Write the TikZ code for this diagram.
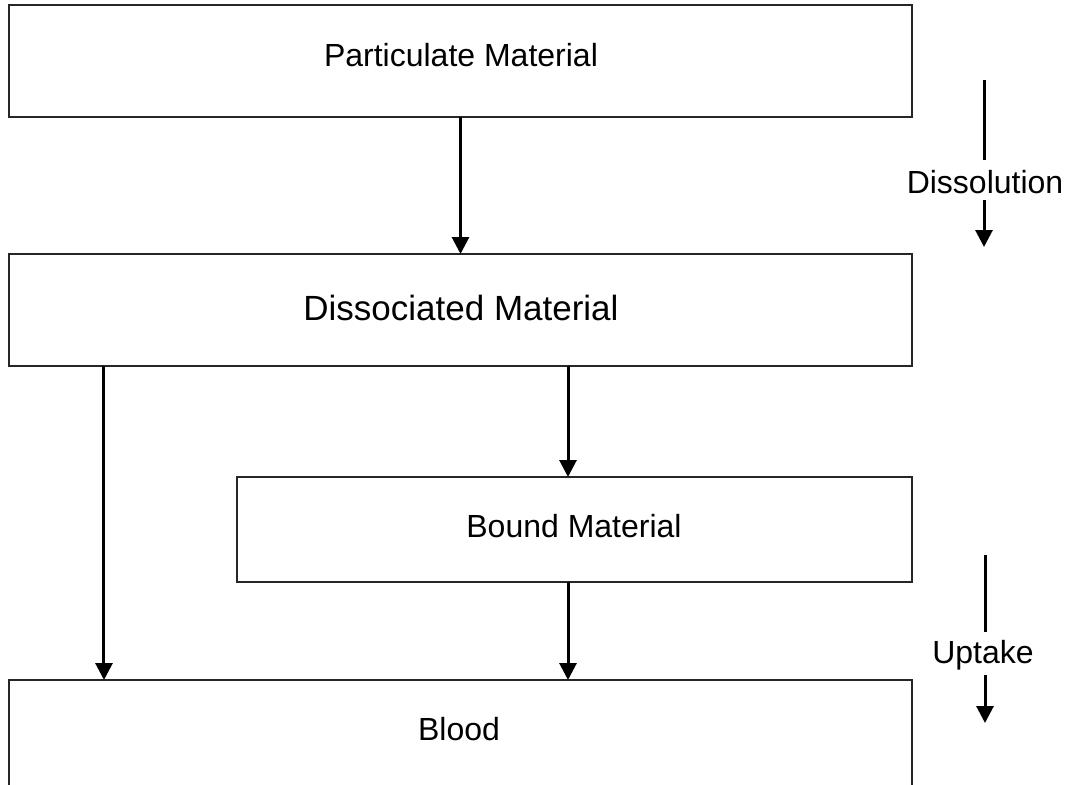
\documentclass[tikz,border=0pt]{standalone}
\usepackage{fontspec}
\setmainfont{Liberation Sans}
\usetikzlibrary{arrows.meta}
\begin{document}
\begin{tikzpicture}[x=1bp,y=-1bp,
  box/.style={draw=black!85, line width=1.3bp, inner sep=0pt, outer sep=0pt, fill=none},
  lab/.style={inner sep=0pt, font=\fontsize{32bp}{36bp}\selectfont},
  biglab/.style={inner sep=0pt, font=\fontsize{35bp}{40bp}\selectfont},
  arr/.style={line width=3bp, -{Triangle[width=17bp,length=17bp]}},
  plain/.style={line width=3bp}]
\useasboundingbox (0,0) rectangle (1071,785);
\clip (0,0) rectangle (1071,785);
% boxes
\node[box, minimum width=903bp, minimum height=112bp] (p) at (460.5,61) {};
\node[box, minimum width=903bp, minimum height=112bp] (d) at (460.5,310) {};
\node[box, minimum width=675bp, minimum height=105bp] (b) at (574.5,529.5) {};
\node[box, minimum width=903bp, minimum height=240bp] (bl) at (460.5,800) {};
% labels
\node[lab] (pt) at (461,55) {Particulate Material};
\node[biglab] (dt) at (461,308) {Dissociated Material};
\node[lab] (bt) at (574,526) {Bound Material};
\node[lab] (blt) at (459,729) {Blood};
% connectors
\draw[arr] (p.south) -- (d.north);
\draw[arr] ([xshift=95bp]d.south west) coordinate (l1) -- (l1 |- bl.north);
\draw[arr] ([xshift=-344bp]d.south east) coordinate (m1) -- (m1 |- b.north);
\draw[arr] ([xshift=-344bp]b.south east) coordinate (m2) -- (m2 |- bl.north);
% side processes
\node[lab] (dis) at (985,182) {Dissolution};
\coordinate (d1) at (984,80);
\coordinate (d2) at (984,160);
\coordinate (d3) at (984,200);
\coordinate (d4) at (984,247);
\draw[plain] (d1) -- (d2);
\draw[arr] (d3) -- (d4);
\node[lab] (up) at (983,655) {Uptake};
\coordinate (u1) at (985,555);
\coordinate (u2) at (985,632);
\coordinate (u3) at (985,675);
\coordinate (u4) at (985,723);
\draw[plain] (u1) -- (u2);
\draw[arr] (u3) -- (u4);
\end{tikzpicture}
\end{document}
